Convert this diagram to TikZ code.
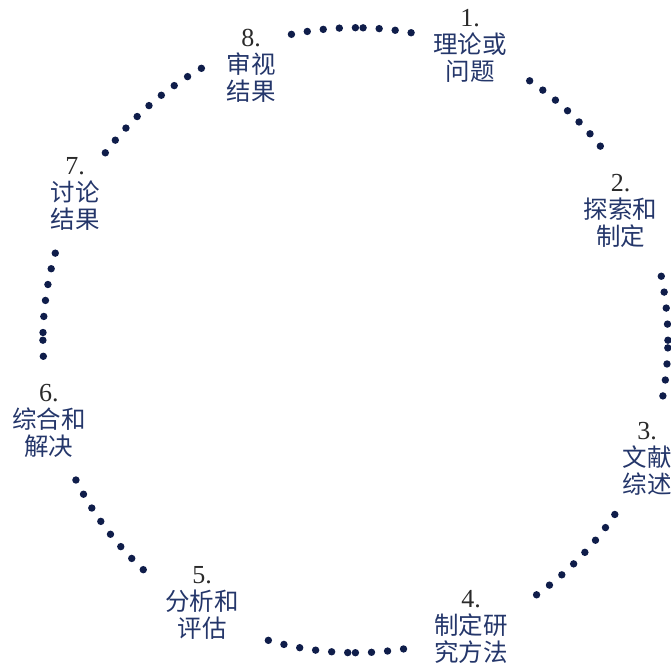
\documentclass[tikz,border=0pt]{standalone}
\usepackage{fontspec}
\setmainfont{Liberation Serif}
\newfontfamily\cjkfont{Noto Sans CJK SC}
\definecolor{dotnavy}{HTML}{0F1D4A}
\definecolor{txtnavy}{HTML}{24366A}
\definecolor{numgray}{HTML}{2A2A2A}
\newcommand\numtxt[1]{{\rmfamily\fontsize{26}{27}\selectfont\color{numgray}#1}}
\begin{document}
\begin{tikzpicture}[x=1pt,y=-1pt,
  lbl/.style={align=center, inner sep=0pt, text=txtnavy,
    font=\fontsize{24.5}{27}\selectfont\cjkfont}]
\useasboundingbox (0,0) rectangle (671,669);
\coordinate (ctr) at (355.4,340.2);
% dotted circle, drawn as four quarter runs of dots, gaps left for labels
\foreach \q/\a/\b in {0/0/4, 0/13/19, 0/27/30,
                      90/0/4, 90/10/18, 90/25/30,
                      180/0/1, 180/9/16, 180/25/30,
                      270/0/3, 270/12/19, 270/27/30}{
  \foreach \k in {\a,...,\b}{
    \pgfmathsetmacro\t{\q+\k*2.953}
    \fill[dotnavy] ({355.4+312.5*cos(\t)},{340.2-312.5*sin(\t)}) circle[radius=3.7pt];
  }
}
\node[lbl] (l1) at (470,45.5)  {\numtxt{1.}\\理论或\\问题};
\node[lbl] (l2) at (620.5,211) {\numtxt{2.}\\探索和\\制定};
\node[lbl] (l3) at (647,459)   {\numtxt{3.}\\文献\\综述};
\node[lbl] (l4) at (471,627)   {\numtxt{4.}\\制定研\\究方法};
\node[lbl] (l5) at (202,603)   {\numtxt{5.}\\分析和\\评估};
\node[lbl] (l6) at (49,421)    {\numtxt{6.}\\综合和\\解决};
\node[lbl] (l7) at (75,193.5)  {\numtxt{7.}\\讨论\\结果};
\node[lbl] (l8) at (251,65.5)  {\numtxt{8.}\\审视\\结果};
\end{tikzpicture}
\end{document}
